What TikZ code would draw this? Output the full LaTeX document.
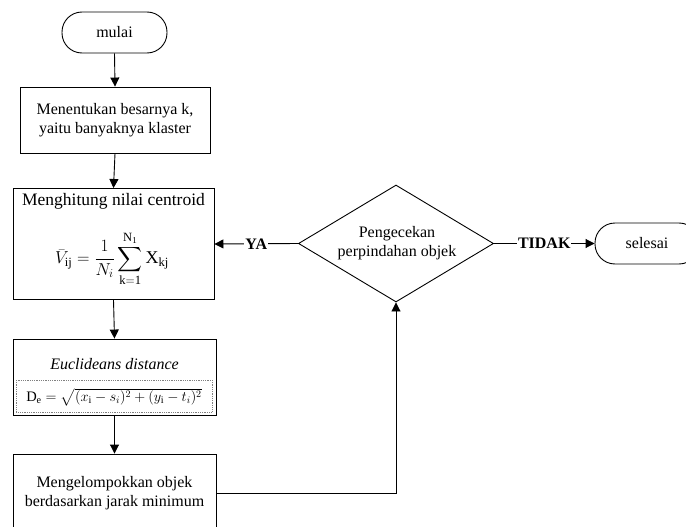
\documentclass[tikz,border=0pt]{standalone}
\usepackage{amsmath}
\usepackage{exscale}
\usepackage{fontspec}
\setmainfont{Liberation Serif}
\usetikzlibrary{arrows.meta,shapes.geometric}
\begin{document}
\begin{tikzpicture}[x=1pt,y=-1pt,
  every node/.style={font=\fontsize{16}{19}\selectfont},
  proc/.style={draw,line width=0.9pt,rectangle,inner sep=0pt},
  term/.style={draw,line width=0.9pt,rectangle,rounded corners=20pt,inner sep=0pt,minimum height=41pt},
  dec/.style={draw,line width=0.9pt,diamond,inner sep=0pt,minimum width=195pt,minimum height=117pt},
  conn/.style={line width=0.9pt,-{Triangle[length=9pt,width=9pt]}},
  lab/.style={fill=white,inner sep=1pt,font=\fontsize{16}{19}\selectfont\bfseries}
]
\useasboundingbox (0,0) rectangle (686,527);
\clip (0,0) rectangle (686,527);

\node[term,minimum width=105pt] (mulai) at (114.5,32.5) {mulai};
\node[proc,minimum width=190pt,minimum height=66pt,align=center] (b1) at (115,120)
  {Menentukan besarnya k,\\yaitu banyaknya klaster};
\node[proc,minimum width=201pt,minimum height=111pt] (b2) at (113.5,244) {};
\node (b2t) at (113.5,201) {\fontsize{17.5}{20}\selectfont Menghitung nilai centroid};
\node (b2f) at (112,259) {\fontsize{18}{22}\selectfont $\displaystyle \bar{V}_{\mathrm{ij}}=\frac{1}{N_i}\sum_{\mathrm{k=1}}^{\mathrm{N_1}}\mathrm{X}_{\mathrm{kj}}$};

\node[proc,minimum width=203pt,minimum height=76pt] (b3) at (114.5,377) {};
\node (b3t) at (114.5,364) {\itshape Euclideans distance};
\draw[densely dotted,gray,line width=0.8pt] (16,380) rectangle (212,412);
\node (b3f) at (114,397) {\fontsize{14.5}{17}\selectfont $\mathrm{D_e}=\sqrt{(x_{\mathrm{i}}-s_{i})^2+(y_{\mathrm{i}}-t_{i})^2}$};

\node[proc,minimum width=203pt,minimum height=79pt,align=center] (b4) at (114.5,493.5)
  {Mengelompokkan objek\\berdasarkan jarak minimum};

\node[dec] (d) at (396,243.5) {};
\node[align=center] (dt) at (397,243) {Pengecekan\\perpindahan objek};

\node[term,minimum width=104pt] (sel) at (647,243.5) {selesai};

\draw[conn] (mulai.south) -- (b1.north);
\draw[conn] (b1.south) -- (b2.north);
\draw[conn] (b2.south) -- (b3.north);
\draw[conn] (b3.south) -- (b4.north);
\draw[conn] (b4.east) -| (d.south);
\draw[conn] (d.west) -- node[lab] {YA} (b2.east);
\draw[conn] (d.east) -- node[lab] {TIDAK} (sel.west);
\end{tikzpicture}
\end{document}
